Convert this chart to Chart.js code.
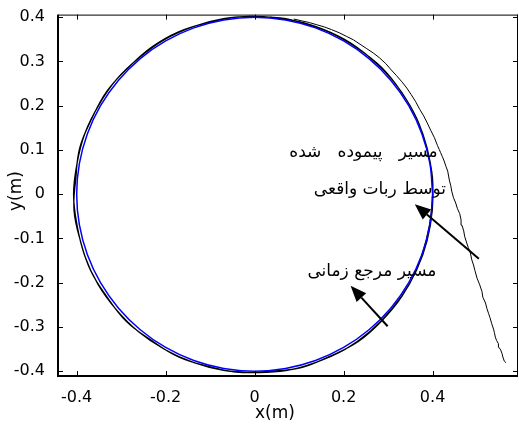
<!DOCTYPE html>
<html><head><meta charset="utf-8">
<script src="https://cdn.jsdelivr.net/npm/chart.js@4"></script>
<style>html,body{margin:0;padding:0;background:#fff}#wrap{width:519px;height:424px}</style>
</head><body><div id="wrap"><canvas id="c" width="519" height="424"></canvas></div>
<script>
// ---- data ----
const xTicks = [-0.4, -0.2, 0, 0.2, 0.4];
const yTicks = [-0.4, -0.3, -0.2, -0.1, 0, 0.1, 0.2, 0.3, 0.4];
const xRange = [-0.442, 0.592];
const yRange = [-0.411, 0.406];

// reference (time) trajectory - blue circle
const refX = [0.4,0.3939,0.3759,0.3464,0.3064,0.2571,0.2,0.1368,0.0695,0,-0.0695,-0.1368,-0.2,-0.2571,-0.3064,-0.3464,-0.3759,-0.3939,-0.4,-0.3939,-0.3759,-0.3464,-0.3064,-0.2571,-0.2,-0.1368,-0.0695,0,0.0695,0.1368,0.2,0.2571,0.3064,0.3464,0.3759,0.3939,0.4];
const refY = [0,0.0695,0.1368,0.2,0.2571,0.3064,0.3464,0.3759,0.3939,0.4,0.3939,0.3759,0.3464,0.3064,0.2571,0.2,0.1368,0.0695,0,-0.0695,-0.1368,-0.2,-0.2571,-0.3064,-0.3464,-0.3759,-0.3939,-0.4,-0.3939,-0.3759,-0.3464,-0.3064,-0.2571,-0.2,-0.1368,-0.0695,0];

// real robot path - approach from lower right (jagged)
const approachX = [0.565,0.561,0.558,0.556,0.553,0.549,0.548,0.544,0.541,0.539,0.537,0.533,0.529,0.526,0.522,0.519,0.513,0.511,0.506,0.500,0.495,0.492,0.488,0.485,0.480,0.476,0.472,0.470,0.466,0.464,0.461,0.456,0.452,0.447,0.443,0.441,0.438,0.436,0.434,0.430,0.426,0.422,0.418,0.415,0.411,0.404,0.396,0.388,0.380,0.371,0.362,0.352,0.342,0.331,0.319,0.307,0.295,0.281,0.267,0.252,0.237,0.222,0.206,0.190,0.173,0.157,0.140,0.123,0.105,0.088];
const approachY = [-0.381,-0.377,-0.368,-0.360,-0.352,-0.346,-0.338,-0.331,-0.323,-0.313,-0.305,-0.293,-0.279,-0.270,-0.258,-0.246,-0.233,-0.220,-0.205,-0.190,-0.172,-0.160,-0.148,-0.133,-0.120,-0.108,-0.095,-0.083,-0.070,-0.058,-0.044,-0.033,-0.020,-0.008,0.007,0.019,0.030,0.041,0.052,0.063,0.075,0.085,0.094,0.101,0.110,0.128,0.144,0.161,0.177,0.192,0.209,0.225,0.240,0.254,0.268,0.281,0.295,0.308,0.319,0.329,0.339,0.349,0.357,0.365,0.372,0.378,0.383,0.388,0.392,0.396];
// first loop
const loop1X = [0.070,0.000,-0.070,-0.138,-0.202,-0.259,-0.310,-0.350,-0.381,-0.399,-0.407,-0.399,-0.382,-0.352,-0.311,-0.261,-0.202,-0.138,-0.070,0.000,0.070,0.138,0.203,0.260,0.309,0.349,0.378,0.395,0.401,0.395,0.378,0.349,0.309,0.259,0.202,0.138,0.070];
const loop1Y = [0.397,0.402,0.397,0.379,0.350,0.309,0.260,0.202,0.139,0.071,0.000,-0.071,-0.139,-0.204,-0.261,-0.311,-0.351,-0.380,-0.398,-0.403,-0.399,-0.380,-0.351,-0.310,-0.259,-0.201,-0.137,-0.070,0.000,0.070,0.137,0.201,0.259,0.309,0.350,0.379,0.397];
// second loop
const loop2X = [0.035,-0.035,-0.104,-0.171,-0.232,-0.285,-0.332,-0.366,-0.393,-0.402,-0.406,-0.392,-0.369,-0.332,-0.288,-0.231,-0.171,-0.105,-0.035,0.035,0.105,0.170,0.233,0.286,0.331,0.364,0.386,0.398,0.400,0.387,0.365,0.330,0.286,0.231,0.170,0.104,0.035];
const loop2Y = [0.400,0.401,0.388,0.367,0.332,0.285,0.233,0.171,0.105,0.035,-0.036,-0.104,-0.172,-0.232,-0.288,-0.331,-0.368,-0.389,-0.403,-0.400,-0.392,-0.366,-0.333,-0.286,-0.231,-0.170,-0.103,-0.035,0.035,0.104,0.170,0.231,0.286,0.330,0.365,0.388,0.400];

// annotations (data coordinates)
const noteTexts = ['مسیر   پیموده   شده', 'توسط ربات واقعی', 'مسیر مرجع زمانی'];
const noteX = [0.2445, 0.2816, 0.2636];
const noteY = [0.093, 0.0097, -0.175];
const arrowTail = [[0.504, -0.146], [0.299, -0.2985]];
const arrowHead = [[0.360, -0.0225], [0.2157, -0.207]];
const xTitle = 'x(m)';
const yTitle = 'y(m)';

// ---- build ----
const zip = (xs, ys) => xs.map((v, i) => ({x: v, y: ys[i]}));
const refData = zip(refX, refY);
const approachData = zip(approachX, approachY);
const loopData = zip(loop1X, loop1Y).concat(zip(loop2X, loop2Y));

const TICK_FONT = {family: '"DejaVu Sans"', size: 16};

const framePlugin = {
  id: 'frame',
  afterDraw(chart) {
    const {ctx, chartArea: a, scales: {x, y}} = chart;
    ctx.save();
    ctx.fillStyle = '#000';
    // box
    ctx.fillRect(a.left - 1, a.top, 2, a.bottom - a.top + 1);
    ctx.fillRect(a.left - 1, a.bottom - 1, a.right - a.left + 1, 2);
    ctx.fillRect(a.left, a.top, a.right - a.left, 1);
    ctx.fillRect(a.right - 1, a.top, 1, a.bottom - a.top);
    // inward ticks
    xTicks.forEach(v => {
      const px = Math.round(x.getPixelForValue(v));
      ctx.fillRect(px, a.bottom - 5, 1, 5);
      ctx.fillRect(px, a.top, 1, 5);
    });
    yTicks.forEach(v => {
      const py = Math.round(y.getPixelForValue(v));
      ctx.fillRect(a.left, py, 5, 1);
      ctx.fillRect(a.right - 5, py, 5, 1);
    });
    // arrows
    ctx.strokeStyle = '#000';
    ctx.lineWidth = 2;
    arrowTail.forEach((t, i) => {
      const h = arrowHead[i];
      const x0 = x.getPixelForValue(t[0]), y0 = y.getPixelForValue(t[1]);
      const x1 = x.getPixelForValue(h[0]), y1 = y.getPixelForValue(h[1]);
      const ang = Math.atan2(y1 - y0, x1 - x0);
      const L = 16, W = 6.5;
      const bx = x1 - L * Math.cos(ang), by = y1 - L * Math.sin(ang);
      ctx.beginPath(); ctx.moveTo(x0, y0); ctx.lineTo(bx, by); ctx.stroke();
      ctx.beginPath();
      ctx.moveTo(x1, y1);
      ctx.lineTo(bx + W * Math.sin(ang), by - W * Math.cos(ang));
      ctx.lineTo(bx - W * Math.sin(ang), by + W * Math.cos(ang));
      ctx.closePath(); ctx.fill();
    });
    // notes
    ctx.font = '17px "DejaVu Sans"';
    ctx.direction = 'rtl';
    ctx.textAlign = 'center';
    ctx.textBaseline = 'middle';
    noteTexts.forEach((s, i) => {
      ctx.fillText(s, x.getPixelForValue(noteX[i]), y.getPixelForValue(noteY[i]));
    });
    // axis titles
    ctx.direction = 'ltr';
    ctx.font = '17px "DejaVu Sans"';
    ctx.fillText(xTitle, 275, 414);
    ctx.translate(17, 191);
    ctx.rotate(-Math.PI / 2);
    ctx.fillText(yTitle, 0, 0);
    ctx.restore();
  }
};

new Chart(document.getElementById('c'), {
  type: 'scatter',
  data: {
    datasets: [
      {label: 'ref', data: refData, showLine: true, borderColor: '#0000ff', borderWidth: 1.5, pointRadius: 0, tension: 0.4, order: 0, fill: false},
      {label: 'robot loops', data: loopData, showLine: true, borderColor: '#000000', borderWidth: 1.3, pointRadius: 0, tension: 0.4, order: 1, fill: false},
      {label: 'robot approach', data: approachData, showLine: true, borderColor: '#000000', borderWidth: 1, pointRadius: 0, tension: 0, order: 2, fill: false}
    ]
  },
  options: {
    responsive: false,
    animation: false,
    devicePixelRatio: 1,
    layout: {padding: {left: 0, right: 1, top: 13, bottom: 0}},
    plugins: {legend: {display: false}, tooltip: {enabled: false}, title: {display: false}},
    scales: {
      x: {
        type: 'linear', min: xRange[0], max: xRange[1],
        grid: {display: false}, border: {display: false},
        afterBuildTicks: s => { s.ticks = xTicks.map(v => ({value: v})); },
        afterFit: s => { s.height = 48; },
        ticks: {font: TICK_FONT, color: '#000', padding: 4, maxRotation: 0, autoSkip: false,
          callback: v => String(Math.round(v * 10) / 10)}
      },
      y: {
        type: 'linear', min: yRange[0], max: yRange[1],
        grid: {display: false}, border: {display: false},
        afterBuildTicks: s => { s.ticks = yTicks.map(v => ({value: v})); },
        afterFit: s => { s.width = 58; },
        ticks: {font: TICK_FONT, color: '#000', padding: 5, autoSkip: false,
          callback: v => String(Math.round(v * 10) / 10)}
      }
    }
  },
  plugins: [framePlugin]
});
</script>
</body></html>
